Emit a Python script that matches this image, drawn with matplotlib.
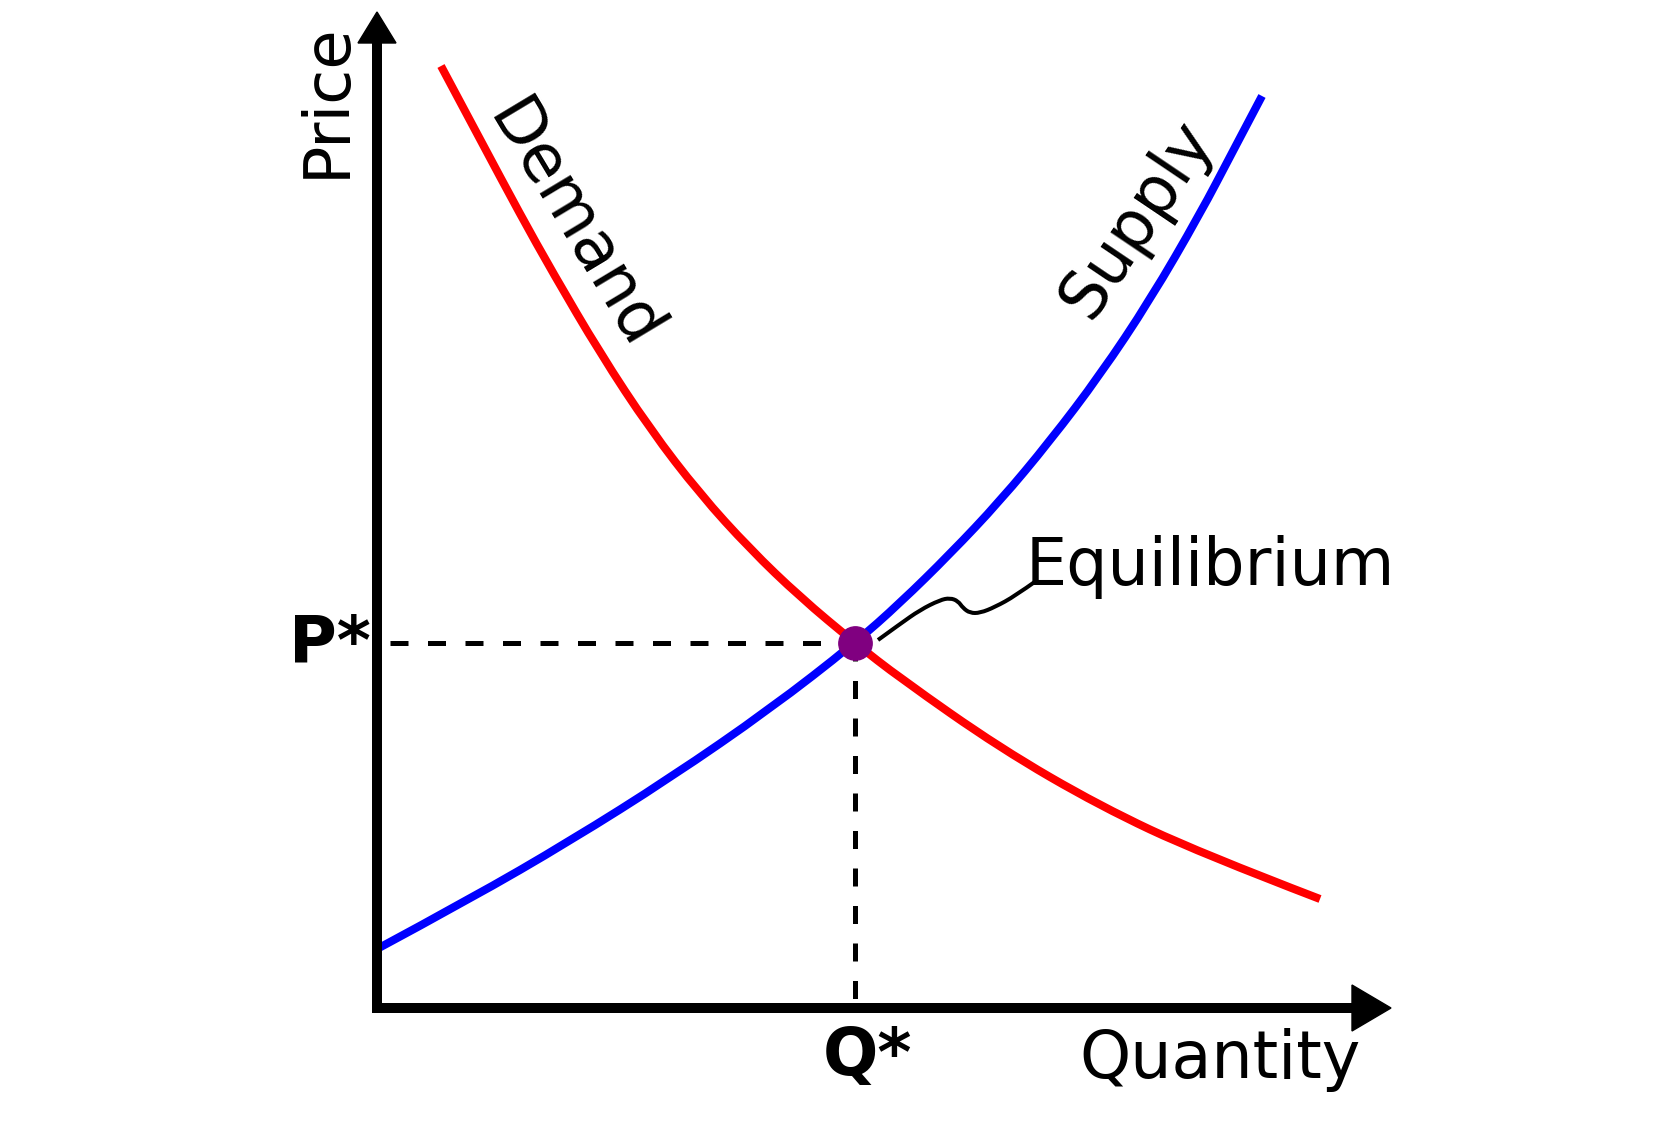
import numpy as np
import matplotlib
matplotlib.use("Agg")
import matplotlib.pyplot as plt
from matplotlib.path import Path
from matplotlib.patches import PathPatch

# curves (quantity, price)
demand_q = [0.64, 1.04, 1.43, 1.76, 2.23, 2.73, 3.23, 3.73, 4.23, 4.78, 5.23, 6.23, 7.23, 8.23, 9.43]
demand_p = [9.42, 8.67, 7.94, 7.35, 6.55, 5.79, 5.14, 4.59, 4.11, 3.65, 3.30, 2.60, 2.02, 1.55, 1.09]

supply_q = [0.00, 0.93, 1.93, 2.93, 3.93, 4.78, 5.23, 5.73, 6.23, 6.73, 7.23, 7.73, 8.23, 8.56, 8.85]
supply_p = [0.59, 1.09, 1.67, 2.30, 2.99, 3.65, 4.05, 4.54, 5.07, 5.67, 6.33, 7.08, 7.94, 8.57, 9.12]

q_star = 4.78
p_star = 3.65

# squiggly leader from the equilibrium point to its label
leader_q = [5.01, 5.23, 5.43, 5.63, 5.73, 5.81, 5.86, 5.93, 6.03, 6.18, 6.38, 6.59]
leader_p = [3.68, 3.84, 3.98, 4.08, 4.10, 4.07, 4.00, 3.95, 3.95, 4.01, 4.12, 4.27]

x_max = 10.14
y_max = 9.96


def smooth_path(xs, ys):
    # quadratic bezier through midpoints, so the polyline reads as a smooth curve
    pts = list(zip(xs, ys))
    verts = [pts[0]]
    codes = [Path.MOVETO]
    for i in range(1, len(pts) - 1):
        mid = ((pts[i][0] + pts[i + 1][0]) / 2, (pts[i][1] + pts[i + 1][1]) / 2)
        if i == len(pts) - 2:
            mid = pts[-1]
        verts += [pts[i], mid]
        codes += [Path.CURVE3, Path.CURVE3]
    return Path(verts, codes)


fig = plt.figure(figsize=(16.8, 11.22), dpi=100)
ax = fig.add_axes([0, 0, 1, 1])
ax.set_xlim(-3.77, 13.03)
ax.set_ylim(-1.14, 10.08)
ax.axis('off')

# curves
ax.add_patch(PathPatch(smooth_path(demand_q, demand_p), fill=False, edgecolor='red',
                       lw=5.8, capstyle='butt', zorder=2))
ax.add_patch(PathPatch(smooth_path(supply_q, supply_p), fill=False, edgecolor='blue',
                       lw=5.8, capstyle='butt', zorder=3))

# dashed guides
ax.plot([0.13, q_star], [p_star, p_star], color='black', lw=3.6,
        linestyle=(0, (3.6, 3.9)), zorder=1)
ax.plot([q_star, q_star], [p_star, 0.05], color='black', lw=3.6,
        linestyle=(0, (3.6, 3.9)), zorder=1)

# axes with arrow heads
ax.plot([0, 0, x_max - 0.35], [y_max - 0.3, 0, 0], color='black', lw=7.2,
        solid_joinstyle='miter', solid_capstyle='projecting', zorder=4)
ax.fill([-0.19, 0.19, 0], [y_max - 0.31, y_max - 0.31, y_max], color='black', zorder=4)
ax.fill([x_max - 0.39, x_max - 0.39, x_max], [-0.23, 0.23, 0], color='black', zorder=4)

# equilibrium
ax.add_patch(PathPatch(smooth_path(leader_q, leader_p), fill=False, edgecolor='black',
                       lw=2.9, zorder=3))
ax.plot([q_star], [p_star], 'o', color='#800080', markersize=24, zorder=5)

# labels
ax.text(-0.50, 9.08, 'Price', fontsize=46, rotation=90, ha='center', va='center')
ax.text(8.43, -0.70, 'Quantity', fontsize=47, ha='center', va='baseline')
ax.text(8.33, 4.23, 'Equilibrium', fontsize=47, ha='center', va='baseline')
ax.text(-0.47, 3.45, 'P*', fontsize=47, fontweight='bold', ha='center', va='baseline')
ax.text(4.90, -0.67, 'Q*', fontsize=47, fontweight='bold', ha='center', va='baseline')
ax.text(1.96, 7.82, 'Demand', fontsize=47, rotation=-59, ha='center', va='center',
        rotation_mode='anchor')
ax.text(7.60, 7.89, 'Supply', fontsize=47, rotation=56, ha='center', va='center',
        rotation_mode='anchor')

fig.savefig('out.png', dpi=100)
